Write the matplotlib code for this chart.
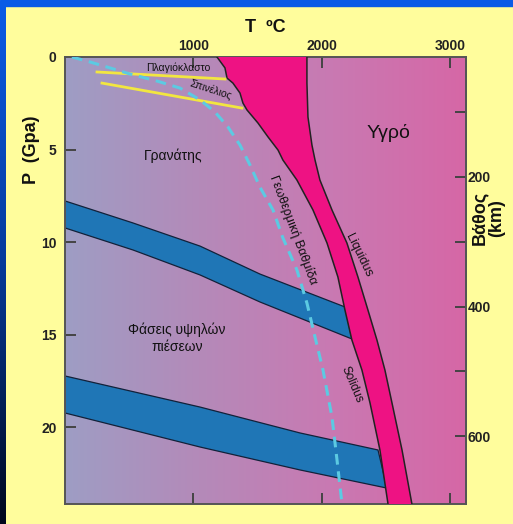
import numpy as np
import matplotlib
matplotlib.use("Agg")
import matplotlib.pyplot as plt
from matplotlib.patches import Polygon, Rectangle

plt.rcParams['font.family'] = ['Liberation Sans', 'DejaVu Sans']

# phase boundaries, T in degC, P in GPa
solidus_T = [1183, 1245, 1261, 1307, 1362, 1385, 1416, 1502, 1580, 1658, 1696, 1805, 1930, 2039, 2124, 2179, 2233, 2311, 2374, 2451, 2514]
solidus_P = [0, 0.59, 1.14, 1.41, 1.95, 2.49, 2.86, 3.57, 4.32, 5.03, 5.57, 6.65, 8.27, 10.05, 11.89, 13.68, 15.30, 16.92, 18.70, 21.24, 24.16]
liquidus_T = [1883, 1883, 1891, 1922, 1946, 1984, 2078, 2194, 2280, 2358, 2428, 2490, 2545, 2623, 2700]
liquidus_P = [0, 1.41, 3.24, 4.76, 5.57, 6.65, 8.27, 10.05, 11.89, 13.68, 15.30, 16.92, 18.70, 21.24, 24.16]

geo_T = [54, 195, 350, 506, 716, 895, 1051, 1167, 1268, 1362, 1440, 1517, 1619, 1696, 1805, 1883, 1946, 2008, 2078, 2117, 2156]
geo_P = [0, 0.27, 0.59, 0.92, 1.30, 1.68, 2.32, 2.97, 3.78, 4.76, 5.84, 7.03, 8.27, 9.78, 11.51, 13.30, 15.14, 16.92, 19.46, 21.78, 24.16]

# high-pressure transition bands (upper / lower edge)
band1_top_T = [0, 529, 1051, 1517, 2179]
band1_top_P = [7.78, 8.97, 10.22, 11.73, 13.51]
band1_bot_T = [0, 529, 1051, 1517, 2233]
band1_bot_P = [9.24, 10.43, 11.78, 13.24, 15.24]
band2_top_T = [0, 1051, 1829, 2436]
band2_top_P = [17.24, 18.92, 20.32, 21.24]
band2_bot_T = [0, 1051, 1829, 2506]
band2_bot_P = [19.24, 21.08, 22.32, 23.30]

plag_T = [249, 1245]
plag_P = [0.81, 1.19]
spinel_T = [288, 1377]
spinel_P = [1.41, 2.76]

T_ticks = [1000, 2000, 3000]
P_ticks = [0, 5, 10, 15, 20]
km_ticks = [100, 200, 300, 400, 500, 600]
km_labels = ['', '200', '', '400', '', '600']

W, H = 513, 524
fig = plt.figure(figsize=(W / 100, H / 100), dpi=100)
fig.patch.set_facecolor('#FFFD9C')

# blue frame (top bar + left strip going dark)
fig.patches.append(Rectangle((0, 1 - 6 / H), 1, 6 / H, transform=fig.transFigure,
                             color='#0A5BE6', zorder=0))
strip = fig.add_axes([0, 0, 6 / W, 1 - 6 / H])
grad = np.linspace(0, 1, 256).reshape(-1, 1)
cm = matplotlib.colors.LinearSegmentedColormap.from_list('b', ['#0A5BE6', '#063A9A', '#00071C'])
strip.imshow(grad, aspect='auto', cmap=cm, extent=[0, 1, 0, 1])
strip.axis('off')

x0, x1, y0, y1 = 65, 466, 57, 504
ax = fig.add_axes([x0 / W, 1 - y1 / H, (x1 - x0) / W, (y1 - y0) / H])
Tmax, Pmax = 3121, 24.16
ax.set_xlim(0, Tmax)
ax.set_ylim(Pmax, 0)

# background gradient
bg = matplotlib.colors.LinearSegmentedColormap.from_list(
    'bg', ['#9E9DC4', '#B48AB9', '#C979B2', '#D667A6'])
ax.imshow(np.linspace(0, 1, 256).reshape(1, -1), aspect='auto', cmap=bg,
          extent=[0, Tmax, Pmax, 0], zorder=0)

# blue bands
for tT, tP, bT, bP in [(band1_top_T, band1_top_P, band1_bot_T, band1_bot_P),
                       (band2_top_T, band2_top_P, band2_bot_T, band2_bot_P)]:
    pts = list(zip(tT, tP)) + list(zip(bT[::-1], bP[::-1]))
    ax.add_patch(Polygon(pts, closed=True, facecolor='#1F76B6', edgecolor='#12213A',
                         lw=0.9, zorder=2))

# melt band between solidus and liquidus
pts = list(zip(solidus_T, solidus_P)) + list(zip(liquidus_T[::-1], liquidus_P[::-1]))
ax.add_patch(Polygon(pts, closed=True, facecolor='#EE1283', edgecolor='none', zorder=3))
ax.plot(solidus_T, solidus_P, color='#222222', lw=1.1, zorder=4)
ax.plot(liquidus_T, liquidus_P, color='#222222', lw=1.1, zorder=4)

# yellow reaction lines
ax.plot(plag_T, plag_P, color='#F2E640', lw=2.0, zorder=4)
ax.plot(spinel_T, spinel_P, color='#F2E640', lw=2.0, zorder=4)

# geotherm
ax.plot(geo_T, geo_P, color='#5CCAE2', lw=2.2, ls=(0, (3.5, 2.2)), zorder=5)

txt = dict(color='#111111', ha='center', va='center', zorder=6)
ax.text(879, 0.57, 'Πλαγιόκλαστο', fontsize=7.5, **txt)
ax.text(1136, 1.78, 'Σπινέλιος', fontsize=7.5, rotation=-18, **txt)
ax.text(840, 5.35, 'Γρανάτης', fontsize=10, **txt)
ax.text(2514, 4.1, 'Υγρό', fontsize=14, **txt)
ax.text(872, 15.2, 'Φάσεις υψηλών\nπιέσεων', fontsize=10, linespacing=1.2, **txt)
ax.text(1774, 9.35, 'Γεωθερμική Βαθμίδα', fontsize=9, rotation=-69.5, **txt)
ax.text(2288, 10.7, 'Liquidus', fontsize=9, rotation=-64, **txt)
ax.text(2233, 17.73, 'Solidus', fontsize=8.5, rotation=-67, **txt)

# axes
for s in ax.spines.values():
    s.set_color('#555555')
    s.set_linewidth(1.4)
ax.set_xticks(T_ticks)
ax.set_yticks(P_ticks)
ax.tick_params(axis='both', direction='in', length=8, width=1.4, color='#444444',
               labelsize=10, labelcolor='#222222')
ax.tick_params(axis='x', top=True, labeltop=True, bottom=True, labelbottom=False, pad=3)
ax.tick_params(axis='y', left=True, right=False, pad=6)
for lab in ax.get_xticklabels() + ax.get_yticklabels():
    lab.set_fontweight('bold')

sec = ax.secondary_yaxis('right', functions=(lambda p: 28.57 * p + 14.7,
                                             lambda k: (k - 14.7) / 28.57))
sec.set_yticks(km_ticks)
sec.set_yticklabels(km_labels)
sec.tick_params(direction='in', length=8, width=1.4, color='#444444',
                labelsize=10, labelcolor='#222222', pad=1)
for lab in sec.get_yticklabels():
    lab.set_fontweight('bold')
sec.spines['right'].set_color('#555555')
sec.spines['right'].set_linewidth(1.4)

fig.text(265 / W, 1 - 27 / H, 'T  ºC', fontsize=13, fontweight='bold',
         ha='center', va='center', color='#111111')
fig.text(31 / W, 1 - 150 / H, 'P  (Gpa)', fontsize=13, fontweight='bold',
         rotation=90, ha='center', va='center', color='#111111')
fig.text(488 / W, 1 - 218 / H, 'Βάθος\n(km)', fontsize=13, fontweight='bold',
         rotation=90, ha='center', va='center', color='#111111', linespacing=0.95)

fig.savefig('out.png', dpi=100, facecolor=fig.get_facecolor())
